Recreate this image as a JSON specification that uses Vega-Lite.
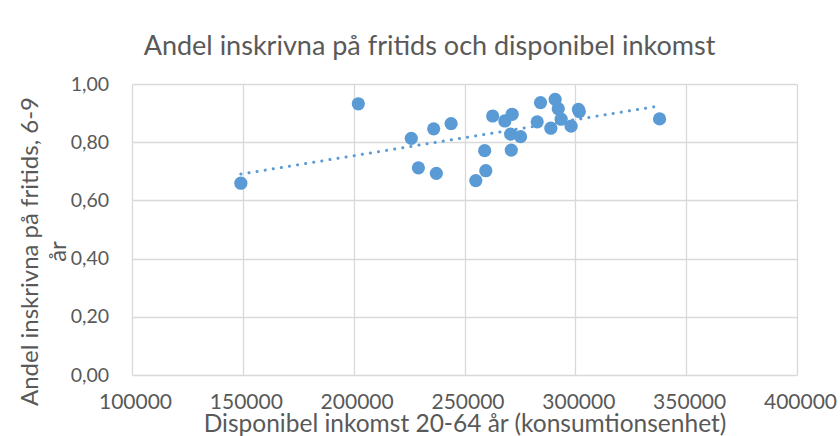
{
  "$schema": "https://vega.github.io/schema/vega-lite/v6.json",
  "width": 665,
  "height": 291,
  "autosize": "none",
  "padding": {"left": 132, "top": 84, "right": 43, "bottom": 61},
  "background": "white",
  "config": {
    "font": "Lato",
    "view": {"stroke": null},
    "locale": {"number": {"decimal": ",", "thousands": "", "grouping": [3], "currency": ["", ""]}}
  },
  "title": {
    "text": "Andel inskrivna på fritids och disponibel inkomst",
    "fontSize": 27,
    "fontWeight": "normal",
    "color": "#595959",
    "anchor": "middle",
    "baseline": "alphabetic",
    "dx": -35,
    "offset": -8
  },
  "data": {
    "values": [
      {"inkomst": 149100, "andel": 0.659},
      {"inkomst": 202100, "andel": 0.932},
      {"inkomst": 226000, "andel": 0.813},
      {"inkomst": 229200, "andel": 0.712},
      {"inkomst": 236100, "andel": 0.846},
      {"inkomst": 237300, "andel": 0.693},
      {"inkomst": 243950, "andel": 0.864},
      {"inkomst": 255100, "andel": 0.668},
      {"inkomst": 259100, "andel": 0.771},
      {"inkomst": 259600, "andel": 0.702},
      {"inkomst": 262700, "andel": 0.890},
      {"inkomst": 268200, "andel": 0.873},
      {"inkomst": 271500, "andel": 0.896},
      {"inkomst": 270800, "andel": 0.828},
      {"inkomst": 275300, "andel": 0.819},
      {"inkomst": 271100, "andel": 0.773},
      {"inkomst": 284300, "andel": 0.936},
      {"inkomst": 282800, "andel": 0.870},
      {"inkomst": 290900, "andel": 0.947},
      {"inkomst": 292300, "andel": 0.915},
      {"inkomst": 288950, "andel": 0.848},
      {"inkomst": 293600, "andel": 0.879},
      {"inkomst": 298100, "andel": 0.855},
      {"inkomst": 301400, "andel": 0.913},
      {"inkomst": 301800, "andel": 0.905},
      {"inkomst": 338000, "andel": 0.880}
    ]
  },
  "encoding": {
    "x": {
      "field": "inkomst",
      "type": "quantitative",
      "scale": {"domain": [100000, 400000], "nice": false, "zero": false},
      "axis": {
        "values": [100000, 150000, 200000, 250000, 300000, 350000, 400000],
        "format": "d",
        "title": "Disponibel inkomst 20-64 år (konsumtionsenhet)",
        "titleFontSize": 24.5,
        "titleFontWeight": "normal",
        "titleColor": "#595959",
        "titlePadding": 0,
        "titleY": 56,
        "titleBaseline": "alphabetic",
        "labelFontSize": 21,
        "labelColor": "#595959",
        "labelPadding": 27,
        "labelBaseline": "middle",
        "labelOffset": 3,
        "labelFlush": false,
        "labelOverlap": false,
        "ticks": false,
        "domain": false,
        "grid": true,
        "gridColor": "#d9d9d9",
        "gridWidth": 1.3
      }
    },
    "y": {
      "field": "andel",
      "type": "quantitative",
      "scale": {"domain": [0, 1], "nice": false},
      "axis": {
        "values": [0, 0.2, 0.4, 0.6, 0.8, 1.0],
        "format": ".2f",
        "title": ["Andel inskrivna på fritids, 6-9", "år"],
        "titleFontSize": 24,
        "titleFontWeight": "normal",
        "titleColor": "#595959",
        "titleLineHeight": 28,
        "titleX": -95,
        "titleY": 167,
        "titleAngle": -90,
        "titleAlign": "center",
        "titleBaseline": "alphabetic",
        "labelFontSize": 19.5,
        "labelColor": "#595959",
        "labelPadding": 23.5,
        "labelFlush": false,
        "labelOverlap": false,
        "ticks": false,
        "domain": false,
        "grid": true,
        "gridColor": "#d9d9d9",
        "gridWidth": 1.3
      }
    }
  },
  "layer": [
    {
      "mark": {"type": "circle", "size": 175, "color": "#5b9bd5", "opacity": 1}
    },
    {
      "transform": [
        {"regression": "andel", "on": "inkomst", "extent": [149100, 338000]}
      ],
      "mark": {"type": "line", "color": "#5b9bd5", "strokeWidth": 3, "strokeDash": [0.1, 8.1], "strokeCap": "round"}
    }
  ]
}
